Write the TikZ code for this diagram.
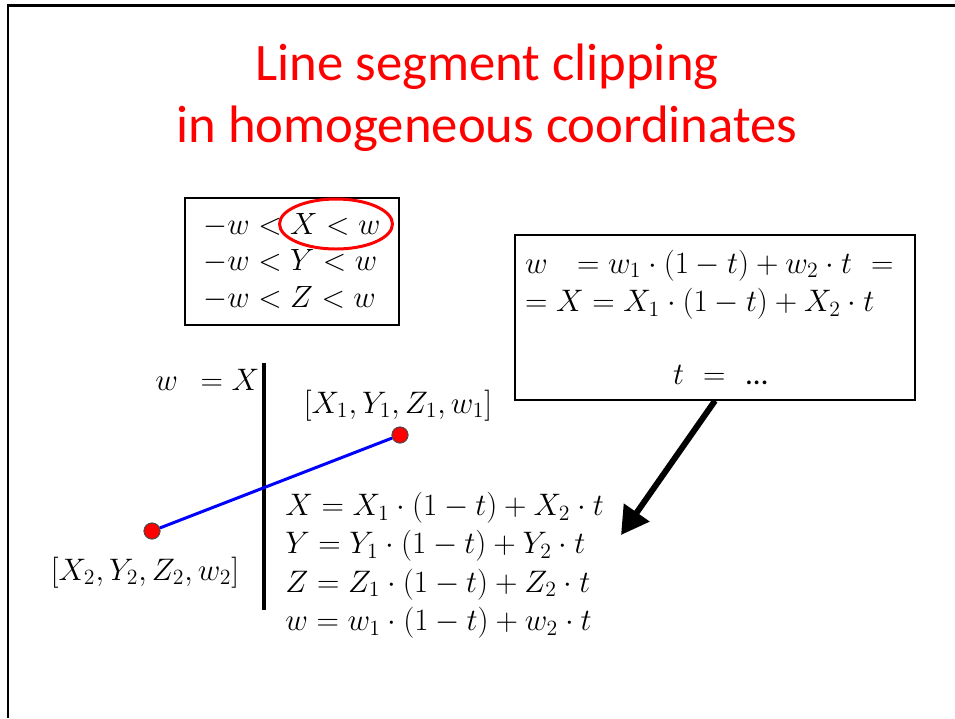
\RequirePackage{fix-cm}
\documentclass[tikz,border=0pt]{standalone}
\usepackage[no-math]{fontspec}
\setmainfont{Carlito}
\usepackage{amsmath}
\usetikzlibrary{arrows.meta,shapes.geometric}
\definecolor{titlered}{HTML}{FF0000}
\definecolor{segblue}{HTML}{0000FF}
\newcommand{\eqsize}{\fontsize{17.7}{21.8}\selectfont}

\begin{document}
\begin{tikzpicture}[x=0.02cm,y=-0.02cm,
    eqbox/.style={draw,line width=0.8pt,inner sep=0.2cm,font=\eqsize},
    eqtext/.style={inner sep=0pt,font=\eqsize},
    endpoint/.style={circle,draw=black!70,fill=titlered,minimum size=0.32cm,inner sep=0pt,line width=0.5pt}]
  \useasboundingbox (0,0) rectangle (955,718);
  % slide frame
  \draw[line width=1.7pt] (8,718) -- (8,5) -- (955,5);
  \node[titlered,align=center,font=\fontsize{30}{35.5}\selectfont] (title) at (487,98) {Line segment clipping\\in homogeneous coordinates};

  % clipping conditions
  \node[eqbox,font=\fontsize{17.5}{20.8}\selectfont,minimum width=4.28cm,minimum height=2.54cm,align=left] (cond) at (292,261.5)
    {$-w < X < w$\\ $-w < Y < w$\\ $-w < Z < w$};
  \node[draw=titlered,line width=1.7pt,ellipse,minimum width=2.26cm,minimum height=1.0cm] (xmark) at (336,224) {};

  % solving for t
  \node[eqbox,text width=7.6cm,minimum height=3.3cm,align=left] (solve) at (715,317.5)
    {$w\ \ = w_1\cdot(1-t)+w_2\cdot t\ =$\\
     $= X = X_1\cdot(1-t)+X_2\cdot t$\\[20pt]
     \hspace*{2.96cm}$t\ =\ $ …};

  % clipping plane and segment
  \coordinate (ptop) at (264,363);
  \coordinate (pbot) at (264,610);
  \draw[line width=2pt] (ptop) -- (pbot);
  \node[eqtext,anchor=base west] (plane) at (155,390) {$w\ \ = X$};
  \node[endpoint] (p1) at (400,435) {};
  \node[endpoint] (p2) at (152,531) {};
  \draw[segblue,line width=1.7pt] (p2) -- (p1);
  \node[endpoint] at (p1) {};
  \node[endpoint] at (p2) {};
  \node[eqtext,anchor=base] (lab1) at (398,413) {$[X_1,Y_1,Z_1,w_1]$};
  \node[eqtext,anchor=base] (lab2) at (145,580) {$[X_2,Y_2,Z_2,w_2]$};

  % parametric form
  \node[eqtext,align=left,anchor=north west] (param) at (285,492)
    {$X = X_1\cdot(1-t)+X_2\cdot t$\\
     $Y = Y_1\cdot(1-t)+Y_2\cdot t$\\
     $Z = Z_1\cdot(1-t)+Z_2\cdot t$\\
     $w = w_1\cdot(1-t)+w_2\cdot t$};
  \coordinate (tip) at (621,535);
  \draw[line width=3.4pt,-{Triangle[length=0.55cm,width=0.6cm]}] (solve.south) -- (tip);
\end{tikzpicture}
\end{document}
